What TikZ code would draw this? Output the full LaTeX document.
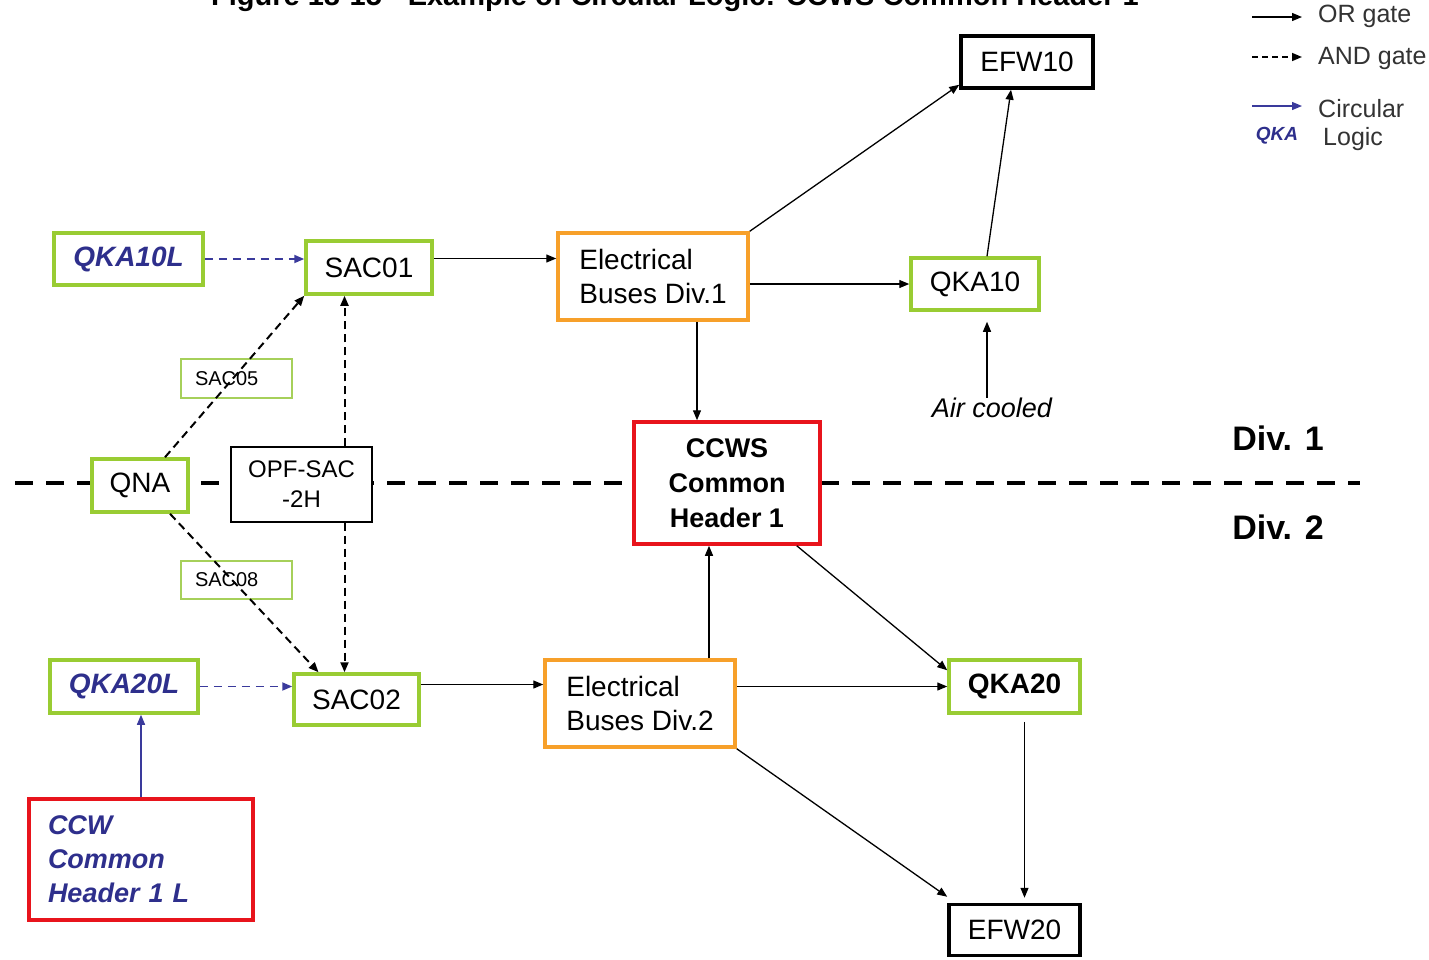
\documentclass[tikz,border=0pt]{standalone}
\usepackage{fontspec}
\setmainfont{Liberation Sans}
\usetikzlibrary{arrows.meta,calc}
\definecolor{gr}{HTML}{99CC33}
\definecolor{lgr}{HTML}{A6D05A}
\definecolor{orng}{HTML}{F7A02A}
\definecolor{rd}{HTML}{E8141C}
\definecolor{navy}{HTML}{2E2F8C}
\definecolor{arrblue}{HTML}{3A3A9C}
\definecolor{legtxt}{HTML}{333333}
\begin{document}
\begin{tikzpicture}[x=1pt,y=-1pt,
  box/.style={draw, fill=white, line width=3.5pt, inner sep=0pt, font=\fontsize{28}{34}\selectfont},
  gbox/.style={box, draw=gr},
  obox/.style={box, draw=orng},
  rbox/.style={box, draw=rd},
  kbox/.style={box, draw=black},
  thinbox/.style={draw=lgr, fill=white, line width=1.3pt, inner ysep=0pt, inner xsep=14pt, text width=83pt, align=left, font=\fontsize{20}{24}\selectfont},
  opfbox/.style={draw=black, fill=white, line width=1.3pt, inner sep=0pt, font=\fontsize{24}{30}\selectfont, align=center},
  circtxt/.style={text=navy, font=\fontsize{28}{34}\selectfont\bfseries\itshape},
  orarr/.style={line width=1.3pt, -{Triangle[length=10pt,width=8pt]}},
  andarr/.style={line width=2pt, dash pattern=on 8pt off 5pt, -{Triangle[length=10pt,width=8pt]}},
  circarr/.style={line width=1.3pt, draw=arrblue, -{Triangle[length=10pt,width=8pt]}, arrblue},
  circdash/.style={line width=1.8pt, draw=arrblue, dash pattern=on 8pt off 6pt, -{Triangle[length=10pt,width=8pt]}, arrblue},
  divline/.style={line width=4pt, dash pattern=on 18pt off 13pt},
  divtxt/.style={font=\fontsize{34}{40}\selectfont\bfseries},
  legend/.style={anchor=west, text=legtxt, font=\fontsize{25}{30}\selectfont, inner sep=0pt}
]
\clip (0,0) rectangle (1429,959);
\fill[white] (0,0) rectangle (1429,959);

% title (cut off at the top, as in the reference)
\node[anchor=base, inner sep=0pt, font=\fontsize{29}{34}\selectfont\bfseries] (title) at (675,5) {Figure 18-15 - Example of Circular Logic: CCWS Common Header 1};

% division line
\coordinate (dl0) at (15,483);
\coordinate (dl1) at (1360,483);
\draw[divline] (dl0) -- (dl1);
\node[divtxt] (div1) at (1278,438) {Div. 1};
\node[divtxt] (div2) at (1278,527) {Div. 2};

% nodes
\node[gbox, circtxt, minimum width=149pt, minimum height=52pt] (qka10l) at (128.5,259) {QKA10L};
\node[gbox, minimum width=126pt, minimum height=53pt] (sac01) at (369,267.5) {SAC01};
\node[obox, minimum width=190pt, minimum height=87pt, align=left] (elec1) at (653,276.5) {Electrical\\Buses Div.1};
\node[kbox, minimum width=132pt, minimum height=52pt] (efw10) at (1027,62) {EFW10};
\node[gbox, minimum width=128pt, minimum height=52pt] (qka10) at (975,284) {QKA10};
\node[inner sep=0pt, font=\fontsize{27}{32}\selectfont\itshape] (air) at (992,408) {Air cooled};
\node[thinbox, minimum height=39pt] (sac05) at (236.5,378.5) {SAC05};
\node[gbox, minimum width=96pt, minimum height=53pt] (qna) at (140,485.5) {QNA};
\node[opfbox, minimum width=141pt, minimum height=75pt] (opf) at (301.5,484.5) {OPF-SAC\\-2H};
\node[rbox, minimum width=186pt, minimum height=122pt, align=center, font=\fontsize{27}{35}\selectfont\bfseries] (ccws) at (727,483) {CCWS\\Common\\Header 1};
\node[thinbox, minimum height=38pt] (sac08) at (236.5,580) {SAC08};
\node[gbox, circtxt, minimum width=148pt, minimum height=53pt] (qka20l) at (124,686.5) {QKA20L};
\node[gbox, minimum width=125pt, minimum height=51pt] (sac02) at (356.5,699.5) {SAC02};
\node[obox, minimum width=190pt, minimum height=87pt, align=left] (elec2) at (640,703.5) {Electrical\\Buses Div.2};
\node[gbox, minimum width=131pt, minimum height=53pt, font=\fontsize{28}{34}\selectfont\bfseries] (qka20) at (1014.5,686.5) {QKA20};
\node[kbox, minimum width=131pt, minimum height=51pt] (efw20) at (1014.5,930) {EFW20};
\node[rbox, circtxt, minimum height=121pt, text width=186pt, inner xsep=19pt, align=left, font=\fontsize{27}{34}\selectfont\bfseries\itshape] (ccw1l) at (141,859.5) {CCW\\Common\\Header 1 L};

% connectors
\draw[circdash] (qka10l.east) -- (qka10l.east -| sac01.west);
\draw[orarr] ([yshift=9pt]sac01.east) -- ([yshift=9pt]sac01.east -| elec1.west);
\draw[orarr] (elec1.north east) -- ([yshift=5pt]efw10.south west);
\draw[orarr] (qka10.west -| elec1.east) -- (qka10.west);
\draw[orarr] ([xshift=12pt]qka10.north) -- ([xshift=-16pt]efw10.south);
\draw[orarr] ([xshift=12pt]qka10.south |- air.north) -- ([xshift=12pt,yshift=-10pt]qka10.south);
\draw[orarr] ([xshift=44pt]elec1.south) -- ([xshift=44pt]elec1.south |- ccws.north);
\draw[andarr] ([xshift=25pt]qna.north) -- (sac01.south west);
\draw[andarr] ([xshift=30pt]qna.south) -- ([xshift=-38pt]sac02.north);
\draw[andarr] ([xshift=43pt]opf.north) -- ([xshift=43pt]opf.north |- sac01.south);
\draw[andarr] ([xshift=43pt]opf.south) -- ([xshift=43pt]opf.south |- sac02.north);
\draw[circdash] (qka20l.east) -- (qka20l.east -| sac02.west);
\draw[circarr] (ccw1l.north) -- (ccw1l.north |- qka20l.south);
\draw[orarr] ([yshift=15pt]sac02.east) -- ([yshift=15pt]sac02.east -| elec2.west);
\draw[orarr] ([xshift=69pt]elec2.north) -- ([xshift=69pt]elec2.north |- ccws.south);
\draw[orarr] ([xshift=-25pt]ccws.south east) -- ([yshift=-12pt]qka20.north west);
\draw[orarr] (qka20.west -| elec2.east) -- (qka20.west);
\draw[orarr] (elec2.south east) -- ([yshift=6pt]efw20.north west);
\draw[orarr] ([xshift=10pt,yshift=-7pt]qka20.south) -- ([xshift=10pt,yshift=5pt]efw20.north);

% legend
\coordinate (l1a) at (1252,17); \coordinate (l1b) at (1302,17);
\coordinate (l2a) at (1252,57); \coordinate (l2b) at (1302,57);
\coordinate (l3a) at (1252,106); \coordinate (l3b) at (1302,106);
\draw[orarr] (l1a) -- (l1b);
\draw[andarr, line width=1.5pt, dash pattern=on 6pt off 4pt] (l2a) -- (l2b);
\draw[circarr] (l3a) -- (l3b);
\node[legend] (lor) at (1318,16) {OR gate};
\node[legend] (land) at (1318,58) {AND gate};
\node[legend] (lcirc) at (1318,109) {Circular};
\node[legend] (llog) at (1323,139) {Logic};
\node[text=navy, font=\fontsize{19}{22}\selectfont\bfseries\itshape, inner sep=0pt] (lqka) at (1277,136) {QKA};
\end{tikzpicture}
\end{document}
